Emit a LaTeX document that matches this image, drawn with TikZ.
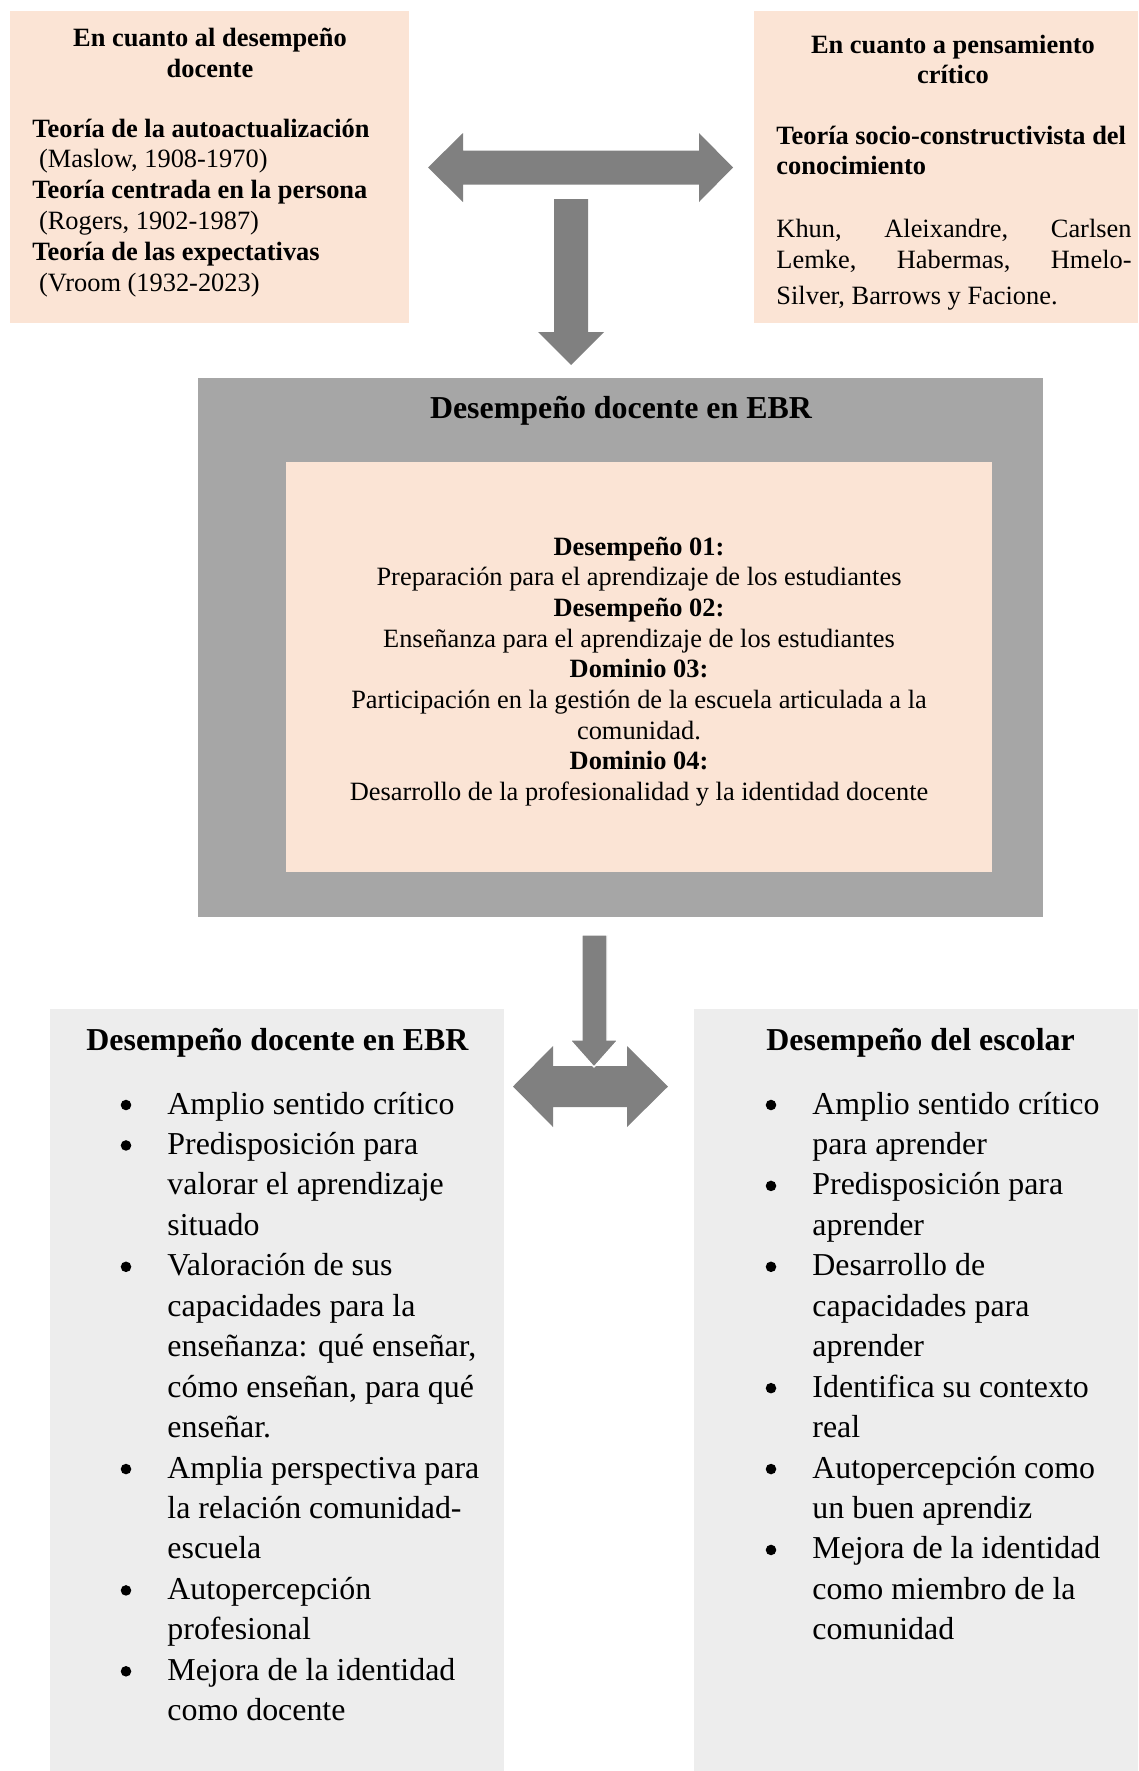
\documentclass[tikz,border=0pt]{standalone}
\usepackage{fontspec}
\setmainfont{Liberation Serif}
\usepackage{tikz}
\definecolor{peach}{HTML}{FBE4D5}
\definecolor{frame}{HTML}{A6A6A6}
\definecolor{arrowgray}{HTML}{808080}
\definecolor{light}{HTML}{EDEDED}
\tikzset{
  peachbox/.style={fill=peach},
  framebox/.style={fill=frame},
  lightbox/.style={fill=light},
  blockarrow/.style={fill=arrowgray},
  cutarrow/.style={fill=arrowgray, draw=white, line width=0.6pt},
  txt/.style={inner sep=0pt, anchor=base west, font=\fontsize{12}{14}\selectfont},
  txtc/.style={inner sep=0pt, anchor=base, font=\fontsize{12}{14}\selectfont},
  hd/.style={inner sep=0pt, anchor=base, font=\fontsize{12}{14}\selectfont\bfseries},
  title/.style={inner sep=0pt, anchor=base, font=\fontsize{14.5}{17}\selectfont\bfseries},
  big/.style={inner sep=0pt, anchor=base west, font=\fontsize{14.5}{17}\selectfont},
  bighd/.style={big, font=\fontsize{14.5}{17}\selectfont\bfseries},
  dot/.style={circle, fill=black, inner sep=0pt, minimum size=4.8pt}
}

\begin{document}
\begin{tikzpicture}[x=0.4545pt, y=-0.4545pt]
  \useasboundingbox (0,0) rectangle (1138,1771);

  \fill[peachbox] (10,11) rectangle (409,323);
  \fill[peachbox] (754,11) rectangle (1138,323);
  \fill[framebox] (198,378) rectangle (1043,917);
  \fill[peachbox] (286,462) rectangle (992,872);
  \fill[lightbox] (50,1009) rectangle (504,1771);
  \fill[lightbox] (694,1009) rectangle (1138,1771);

  \fill[blockarrow] (428,167.5) -- (463,133) -- (463,150.5) -- (699,150.5) -- (699,133)
    -- (733,167.5) -- (699,202) -- (699,184.5) -- (463,184.5) -- (463,202) -- cycle;
  \fill[blockarrow] (554,199) -- (588,199) -- (588,332) -- (604,332) -- (571,365)
    -- (538,332) -- (554,332) -- cycle;
  \fill[blockarrow] (513,1086.5) -- (553,1046) -- (553,1066) -- (627,1066) -- (627,1046)
    -- (668,1086.5) -- (627,1127) -- (627,1107) -- (553,1107) -- (553,1127) -- cycle;
  \filldraw[cutarrow] (582,935) -- (607,935) -- (607,1040) -- (618,1040) -- (594,1067)
    -- (570,1040) -- (582,1040) -- cycle;

  \node[hd] (tl-h1) at (210,46) {En cuanto al desempeño};
  \node[hd] (tl-h2) at (210,77) {docente};
  \foreach \t [count=\i from 0] in {\textbf{Teoría de la autoactualización},
      {\ (Maslow, 1908-1970)}, \textbf{Teoría centrada en la persona},
      {\ (Rogers, 1902-1987)}, \textbf{Teoría de las expectativas},
      {\ (Vroom (1932-2023)}}
    \node[txt] (tl-\i) at (32,{137+30.8*\i}) {\t};

  \node[hd] (tr-h1) at (953,53) {En cuanto a pensamiento};
  \node[hd] (tr-h2) at (953,83) {crítico};
  \node[txt] (tr-1) at (776,144) {\textbf{Teoría socio-constructivista del}};
  \node[txt] (tr-2) at (776,174) {\textbf{conocimiento}};
  \node[txt] (tr-3) at (776,237) {\makebox[161.4pt][s]{Khun, Aleixandre, Carlsen}};
  \node[txt] (tr-4) at (776,268) {\makebox[161.4pt][s]{Lemke, Habermas, Hmelo-}};
  \node[txt] (tr-5) at (776,304) {Silver, Barrows y Facione.};

  \node[title] (ebr) at (621,418) {Desempeño docente en EBR};
  \foreach \t [count=\i from 0] in {\textbf{Desempeño 01:},
      Preparación para el aprendizaje de los estudiantes, \textbf{Desempeño 02:},
      Enseñanza para el aprendizaje de los estudiantes, \textbf{Dominio 03:},
      Participación en la gestión de la escuela articulada a la, comunidad.,
      \textbf{Dominio 04:}, Desarrollo de la profesionalidad y la identidad docente}
    \node[txtc] (in-\i) at (639,{555+30.7*\i}) {\t};

  \node[bighd] (bl-h) at (86,1050) {Desempeño docente en EBR};
  \foreach \t [count=\i from 0] in {Amplio sentido crítico, Predisposición para,
      valorar el aprendizaje, situado, Valoración de sus, capacidades para la,
      {enseñanza: qué enseñar,}, {cómo enseñan, para qué}, enseñar.,
      Amplia perspectiva para, la relación comunidad-, escuela, Autopercepción,
      profesional, Mejora de la identidad, como docente}
    \node[big] (bl-\i) at (167,{1114+40.45*\i}) {\t};
  \foreach \i in {0,1,4,9,12,14}
    \node[dot] (bl-b\i) at (126,{1105+40.45*\i}) {};

  \node[bighd] (br-h) at (766,1050) {Desempeño del escolar};
  \foreach \t [count=\i from 0] in {Amplio sentido crítico, para aprender,
      Predisposición para, aprender, Desarrollo de, capacidades para, aprender,
      Identifica su contexto, real, Autopercepción como, un buen aprendiz,
      Mejora de la identidad, como miembro de la, comunidad}
    \node[big] (br-\i) at (812,{1114+40.45*\i}) {\t};
  \foreach \i in {0,2,4,7,9,11}
    \node[dot] (br-b\i) at (771,{1105+40.45*\i}) {};
\end{tikzpicture}
\end{document}
